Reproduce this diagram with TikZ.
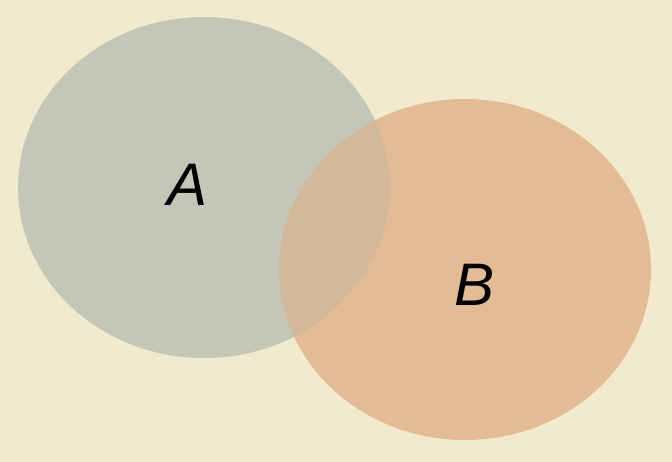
\documentclass[tikz,border=0pt]{standalone}
\usepackage{fontspec}
\setmainfont{Liberation Sans}
\definecolor{paper}{RGB}{241,234,204}
\definecolor{fillA}{RGB}{195,199,184}
\definecolor{fillB}{RGB}{227,188,149}
\definecolor{fillAB}{RGB}{212,184,156}
\begin{document}
\begin{tikzpicture}[x=1pt,y=-1pt,
  setlabel/.style={font=\fontsize{60}{60}\selectfont\itshape, text=black, inner sep=0pt}]
\fill[paper] (0,0) rectangle (672,462);
\useasboundingbox (0,0) rectangle (672,462);
\fill[fillA] (204,187.5) ellipse [x radius=186, y radius=170.5];
\fill[fillB] (465,269.5) ellipse [x radius=186, y radius=170.5];
\begin{scope}
  \clip (204,187.5) ellipse [x radius=186, y radius=170.5];
  \fill[fillAB] (465,269.5) ellipse [x radius=186, y radius=170.5];
\end{scope}
\node[setlabel] (A) at (188,185) {A};
\node[setlabel] (B) at (475,285) {B};
\end{tikzpicture}
\end{document}
